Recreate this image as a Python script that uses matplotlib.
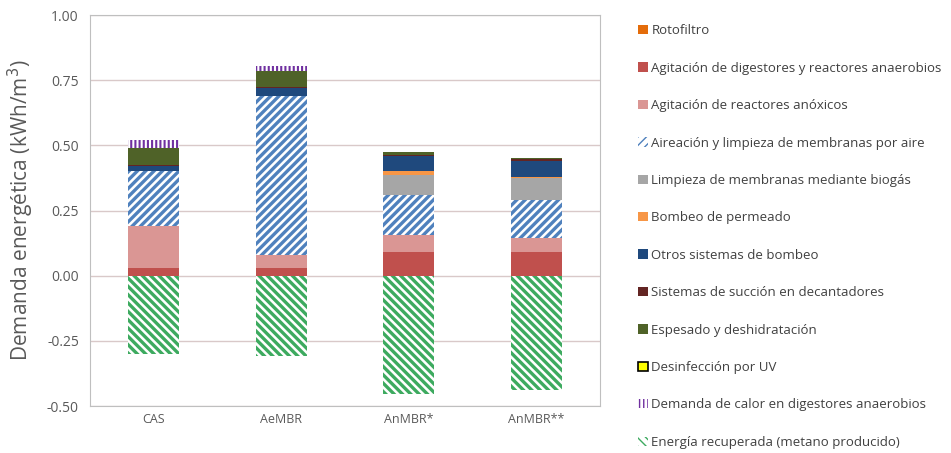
import matplotlib.pyplot as plt
import matplotlib.patches as mpatches
import numpy as np

plt.rcParams['font.family'] = ['Open Sans', 'DejaVu Sans']

# Scenarios and energy demand per component (kWh/m3)
escenarios = ['CAS', 'AeMBR', 'AnMBR*', 'AnMBR**']

rotofiltro = [0.0, 0.0, 0.0, 0.0]
agit_digestores = [0.03, 0.03, 0.09, 0.09]
agit_anoxicos = [0.16, 0.05, 0.065, 0.055]
aireacion = [0.21, 0.61, 0.155, 0.145]
limpieza_biogas = [0.0, 0.0, 0.077, 0.083]
bombeo_permeado = [0.0, 0.0, 0.013, 0.005]
otros_bombeo = [0.02, 0.03, 0.058, 0.063]
succion = [0.003, 0.003, 0.006, 0.006]
espesado = [0.067, 0.063, 0.01, 0.006]
uv = [0.0, 0.0, 0.0, 0.0]
calor = [0.03, 0.02, 0.0, 0.0]
energia_recuperada = [-0.30, -0.31, -0.455, -0.44]

# name, values, face, hatch, hatch/edge colour, hatch width
series = [
    ('Rotofiltro', rotofiltro, '#E46C0A', None, '#E46C0A', 1),
    ('Agitación de digestores y reactores anaerobios', agit_digestores, '#C0504D', None, '#C0504D', 1),
    ('Agitación de reactores anóxicos', agit_anoxicos, '#DA9694', None, '#DA9694', 1),
    ('Aireación y limpieza de membranas por aire', aireacion, 'white', '////', '#4F81BD', 2.4),
    ('Limpieza de membranas mediante biogás', limpieza_biogas, '#A6A6A6', None, '#A6A6A6', 1),
    ('Bombeo de permeado', bombeo_permeado, '#F79646', None, '#F79646', 1),
    ('Otros sistemas de bombeo', otros_bombeo, '#1F497D', None, '#1F497D', 1),
    ('Sistemas de succión en decantadores', succion, '#632523', None, '#632523', 1),
    ('Espesado y deshidratación', espesado, '#4F6228', None, '#4F6228', 1),
    ('Desinfección por UV', uv, '#FFFF00', None, 'black', 1),
    ('Demanda de calor en digestores anaerobios', calor, 'white', '||||', '#7030A0', 1.5),
]

fig = plt.figure(figsize=(9.51, 4.53), dpi=100)
ax = fig.add_axes([90 / 951, 47 / 453, 510 / 951, 391 / 453])

x = np.arange(len(escenarios))
width = 0.4
bottom = np.zeros(len(escenarios))
handles = []
for nombre, valores, color, hatch, borde, hlw in series:
    valores = np.array(valores)
    with plt.rc_context({'hatch.linewidth': hlw}):
        ax.bar(x, valores, width, bottom=bottom, color=color, hatch=hatch,
               edgecolor=borde, linewidth=0, zorder=3)
        handles.append(mpatches.Patch(facecolor=color, hatch=hatch, edgecolor=borde,
                                      linewidth=1.2 if nombre == 'Desinfección por UV' else 0,
                                      label=nombre))
    bottom += valores

# Recovered energy shown as negative demand
with plt.rc_context({'hatch.linewidth': 2.4}):
    ax.bar(x, energia_recuperada, width, color='white', hatch='\\\\\\\\',
           edgecolor='#3DAA5F', linewidth=0, zorder=3)
    handles.append(mpatches.Patch(facecolor='white', hatch='\\\\\\\\', edgecolor='#3DAA5F',
                                  linewidth=0, label='Energía recuperada (metano producido)'))

ax.set_xlim(-0.5, 3.5)
ax.set_ylim(-0.5, 1.0)
ax.set_yticks([-0.5, -0.25, 0, 0.25, 0.5, 0.75, 1.0])
ax.set_yticklabels(['-0.50', '-0.25', '0.00', '0.25', '0.50', '0.75', '1.00'])
ax.set_xticks(x)
ax.set_xticklabels(escenarios)
ax.tick_params(axis='both', length=0, colors='#595959', labelsize=10, pad=8)
ax.tick_params(axis='x', labelsize=9, pad=5)
ax.yaxis.grid(True, color='#D9C9C9', linewidth=1, zorder=0)
for s in ax.spines.values():
    s.set_color('#BFBFBF')
ax.set_ylabel('Demanda energética (kWh/m$^3$)', fontsize=15, color='#595959', labelpad=8)

fig.legend(handles=handles, loc='upper left', bbox_to_anchor=(633 / 951, 1 - 19 / 453),
           frameon=False, fontsize=9.5, labelcolor='#404040', handlelength=0.7,
           handleheight=0.7, handletextpad=0.3, labelspacing=1.85, borderaxespad=0)

fig.savefig('out.png', dpi=100)
